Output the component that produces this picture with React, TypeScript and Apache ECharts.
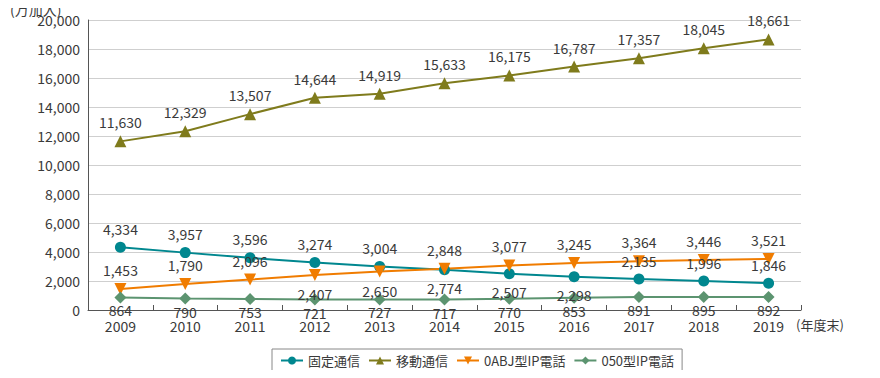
import React, { useEffect, useRef } from "react";
import * as echarts from "echarts";

const years = ["2009", "2010", "2011", "2012", "2013", "2014", "2015", "2016", "2017", "2018", "2019"];
const fixedLine = [4334, 3957, 3596, 3274, 3004, 2774, 2507, 2298, 2135, 1996, 1846];
const fixedLabelPos = ["top", "top", "top", "top", "top", "bottom", "bottom", "bottom", "top", "top", "top"];
const mobile = [11630, 12329, 13507, 14644, 14919, 15633, 16175, 16787, 17357, 18045, 18661];
const ipAbj = [1453, 1790, 2096, 2407, 2650, 2848, 3077, 3245, 3364, 3446, 3521];
const ipAbjLabelPos = ["top", "top", "top", "bottom", "bottom", "top", "top", "top", "top", "top", "top"];
const ip050 = [864, 790, 753, 721, 727, 717, 770, 853, 891, 895, 892];
const seriesNames = ["固定通信", "移動通信", "0ABJ型IP電話", "050型IP電話"];
const colors = ["#00878f", "#7f7b1c", "#f07c00", "#5c9470"];

const FONT = "Noto Sans CJK JP";
const TEXT = "#3a3a3a";

function fmt(v: number) {
  return v.toLocaleString("en-US");
}

function withPos(values: number[], pos: string[] | null, def: string, dist: number) {
  return values.map((v, i) => ({
    value: v,
    label: { position: pos ? pos[i] : def, distance: dist },
  }));
}

export default function App() {
  const ref = useRef<HTMLDivElement>(null);
  useEffect(() => {
    if (!ref.current) return;
    const chart = echarts.init(ref.current, null, { renderer: "svg" });
    const label = {
      show: true,
      fontFamily: FONT,
      fontSize: 14,
      color: TEXT,
      formatter: (p: any) => fmt(p.value),
    };
    const mk = (
      name: string,
      color: string,
      symbol: string,
      size: number,
      data: any[]
    ) => ({
      name,
      type: "line",
      data,
      symbol,
      symbolSize: size,
      itemStyle: { color },
      lineStyle: { color, width: 2 },
      label,
      z: 3,
    });
    chart.setOption({
      animation: false,
      textStyle: { fontFamily: FONT },
      grid: { left: 88, right: 79, top: 20, bottom: 68 },
      xAxis: {
        type: "category",
        data: years,
        boundaryGap: true,
        axisLine: { lineStyle: { color: "#555", width: 1 } },
        axisTick: { show: true, inside: true, length: 5, lineStyle: { color: "#555" } },
        axisLabel: { color: TEXT, fontSize: 14, fontFamily: FONT, margin: 9 },
      },
      yAxis: {
        type: "value",
        min: 0,
        max: 20000,
        interval: 2000,
        axisLine: { show: true, lineStyle: { color: "#555", width: 1 } },
        axisTick: { show: false },
        axisLabel: {
          color: TEXT,
          fontSize: 14,
          fontFamily: FONT,
          margin: 8,
          formatter: (v: number) => fmt(v),
        },
        splitLine: { lineStyle: { color: "#cfcfcf", width: 1 } },
      },
      legend: {
        data: seriesNames,
        left: 272,
        bottom: 6,
        orient: "horizontal",
        borderColor: "#888",
        borderWidth: 1,
        padding: [5, 8, 5, 8],
        itemGap: 8,
        itemWidth: 22,
        itemHeight: 10,
        textStyle: { color: TEXT, fontSize: 13, fontFamily: FONT },
      },
      graphic: [
        {
          type: "text",
          x: 10,
          y: 2,
          style: {
            text: "(万加入)",
            fill: TEXT,
            fontSize: 14,
            fontFamily: FONT,
            verticalAlign: "top",
            align: "left",
          },
        },
        {
          type: "text",
          x: 796,
          y: 318,
          style: {
            text: "(年度末)",
            fill: TEXT,
            fontSize: 13,
            fontFamily: FONT,
            verticalAlign: "top",
            align: "left",
          },
        },
      ],
      series: [
        mk(seriesNames[0], colors[0], "circle", 11, withPos(fixedLine, fixedLabelPos, "top", 6)),
        mk(seriesNames[1], colors[1], "triangle", 12, withPos(mobile, null, "top", 6)),
        mk(seriesNames[2], colors[2], "path://M0,0 L10,0 L5,9 Z", 12, withPos(ipAbj, ipAbjLabelPos, "top", 6)),
        mk(seriesNames[3], colors[3], "diamond", 12, withPos(ip050, null, "bottom", 0)),
      ],
    });
    return () => chart.dispose();
  }, []);
  return <div ref={ref} style={{ width: 880, height: 378, margin: -8 }} />;
}
